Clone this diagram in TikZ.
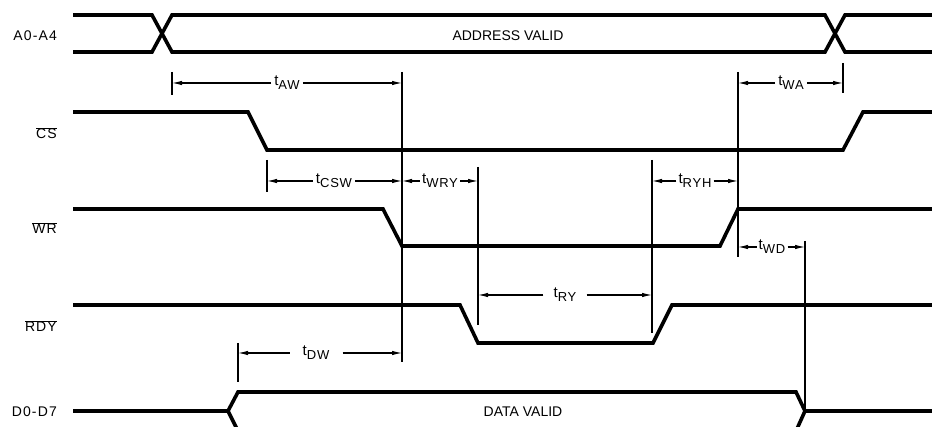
\documentclass[tikz,border=0pt]{standalone}
\usepackage{fontspec}
\setmainfont{Liberation Sans}
\usetikzlibrary{arrows.meta}
\newcommand\tlab[1]{t\raisebox{-4pt}{\fontsize{13}{13}\selectfont\addfontfeature{LetterSpace=6}#1}}
\newcommand\ovl[1]{$\overline{\mbox{#1}}$}
\tikzset{
  sig/.style={line width=3.6pt},
  tickline/.style={line width=1.2pt},
  dim/.style={line width=1.1pt,-{Latex[length=10pt,width=4.5pt]}},
  tl/.style={font=\fontsize{15}{15}\selectfont, inner xsep=3pt, inner ysep=0pt},
  sname/.style={anchor=base east, font=\fontsize{14}{14}\selectfont\addfontfeature{LetterSpace=8}, inner sep=0pt},
  btxt/.style={anchor=base, font=\fontsize{14}{14}\selectfont, inner sep=0pt},
}
\begin{document}
\begin{tikzpicture}[x=1pt,y=-1pt]
\useasboundingbox (0,0) rectangle (932,427);
\clip (0,0) rectangle (932,427);

% signal names
\node[sname] (nA) at (57,41) {A0-A4};
\node[sname] (nCS) at (57,139) {\ovl{CS}};
\node[sname] (nWR) at (57,234) {\ovl{WR}};
\node[sname] (nRDY) at (57,332) {\ovl{RDY}};
\node[sname] (nD) at (57,417) {D0-D7};

% address bus
\draw[sig] (73,15) -- (152,15) -- (172,52) -- (825,52) -- (845,15) -- (932,15);
\draw[sig] (73,52) -- (152,52) -- (172,15) -- (825,15) -- (845,52) -- (932,52);
\node[btxt] (addr) at (508,41) {ADDRESS VALID};

% CS
\draw[sig] (73,112) -- (248,112) -- (267,150) -- (843,150) -- (863,112) -- (932,112);
% WR
\draw[sig] (73,209) -- (383,209) -- (402,246) -- (720,246) -- (738,209) -- (932,209);
% RDY
\draw[sig] (73,305) -- (460,305) -- (478,343) -- (653,343) -- (672,305) -- (932,305);
% data bus
\draw[sig] (73,411) -- (228,411);
\draw[sig] (238,431) -- (228,411) -- (238,392) -- (796,392) -- (805,411) -- (796,431);
\draw[sig] (805,411) -- (932,411);
\node[btxt] (data) at (523,417) {DATA VALID};

% tick / reference lines
\draw[tickline] (172,72) -- (172,95);
\draw[tickline] (402,72) -- (402,362);
\draw[tickline] (267,160) -- (267,192);
\draw[tickline] (478,167) -- (478,325);
\draw[tickline] (652,160) -- (652,333);
\draw[tickline] (738,72) -- (738,257);
\draw[tickline] (843,63) -- (843,93);
\draw[tickline] (805,241) -- (805,411);
\draw[tickline] (238,343) -- (238,382);

% dimension end points
\coordinate (aw1) at (172,83);  \coordinate (aw2) at (402,83);
\coordinate (wa1) at (738,83);  \coordinate (wa2) at (843,83);
\coordinate (cs1) at (267,181); \coordinate (cs2) at (402,181);
\coordinate (wr1) at (402,181); \coordinate (wr2) at (478,181);
\coordinate (rh1) at (652,181); \coordinate (rh2) at (738,181);
\coordinate (wd1) at (738,247); \coordinate (wd2) at (805,247);
\coordinate (ry1) at (478,295); \coordinate (ry2) at (652,295);
\coordinate (dw1) at (238,353); \coordinate (dw2) at (402,353);

% labels
\node[tl] (lAW) at (287,83) {\tlab{AW}};
\node[tl] (lWA) at (791,83) {\tlab{WA}};
\node[tl] (lCSW) at (334,181) {\tlab{CSW}};
\node[tl,inner xsep=2pt] (lWRY) at (440,181) {\tlab{WRY}};
\node[tl,inner xsep=2pt] (lRYH) at (695,181) {\tlab{RYH}};
\node[tl,inner xsep=2pt] (lWD) at (772,247) {\tlab{WD}};
\node[tl,inner xsep=10pt] (lRY) at (565,295) {\tlab{RY}};
\node[tl,inner xsep=13pt] (lDW) at (316,353) {\tlab{DW}};

% dimension arrows
\draw[dim] (lAW.west |- aw1) -- (aw1);  \draw[dim] (lAW.east |- aw2) -- (aw2);
\draw[dim] (lWA.west |- wa1) -- (wa1);  \draw[dim] (lWA.east |- wa2) -- (wa2);
\draw[dim] (lCSW.west |- cs1) -- (cs1); \draw[dim] (lCSW.east |- cs2) -- (cs2);
\draw[dim] (lWRY.west |- wr1) -- (wr1); \draw[dim] (lWRY.east |- wr2) -- (wr2);
\draw[dim] (lRYH.west |- rh1) -- (rh1); \draw[dim] (lRYH.east |- rh2) -- (rh2);
\draw[dim] (lWD.west |- wd1) -- (wd1);  \draw[dim] (lWD.east |- wd2) -- (wd2);
\draw[dim] (lRY.west |- ry1) -- (ry1);  \draw[dim] (lRY.east |- ry2) -- (ry2);
\draw[dim] (lDW.west |- dw1) -- (dw1);  \draw[dim] (lDW.east |- dw2) -- (dw2);
\end{tikzpicture}
\end{document}
